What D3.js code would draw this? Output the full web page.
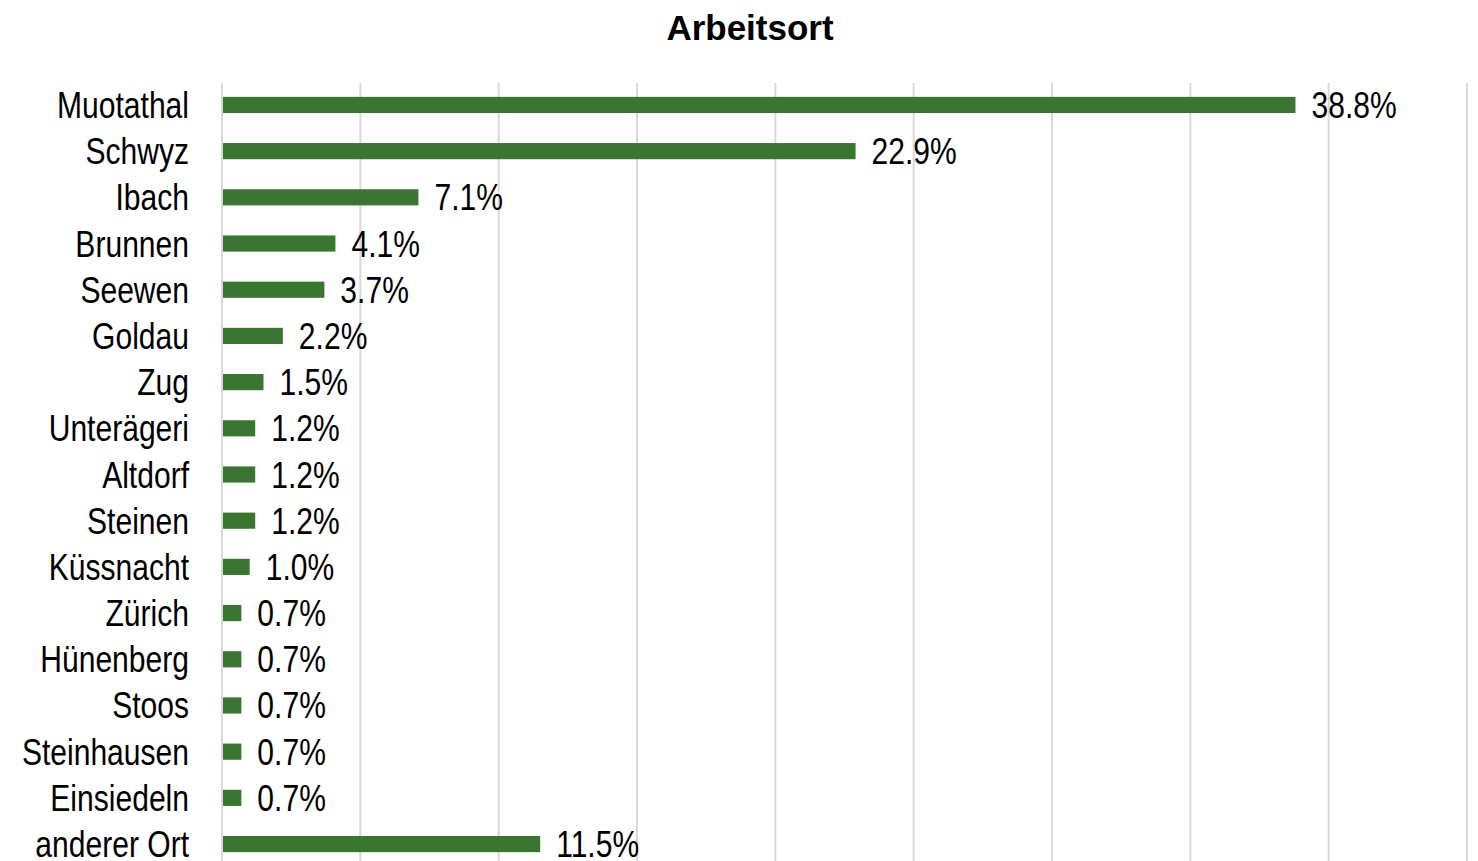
<!DOCTYPE html>
<html>
<head>
<meta charset="utf-8">
<script src="https://cdn.jsdelivr.net/npm/d3@7"></script>
<style>
  body { margin: 0; background: #fff; }
  text { font-family: "Liberation Sans", Arial, sans-serif; }
</style>
</head>
<body>
<div id="chart-area"></div>
<script>
// data
var categories = ["Muotathal", "Schwyz", "Ibach", "Brunnen", "Seewen", "Goldau", "Zug", "Unterägeri",
    "Altdorf", "Steinen", "Küssnacht", "Zürich", "Hünenberg", "Stoos", "Steinhausen", "Einsiedeln", "anderer Ort"];
var values = [38.8, 22.9, 7.1, 4.1, 3.7, 2.2, 1.5, 1.2, 1.2, 1.2, 1.0, 0.7, 0.7, 0.7, 0.7, 0.7, 11.5];
var gridTicks = [0, 5, 10, 15, 20, 25, 30, 35, 40, 45];

var width = 1478, height = 861;
var narrow = 0.835; // no Arial Narrow here, so squeeze the regular face

var svg = d3.select("#chart-area").append("svg")
    .attr("width", width)
    .attr("height", height);

var x = d3.scaleLinear()
    .domain([0, 45])
    .range([222, 1467]);

var y = d3.scaleBand()
    .domain(categories)
    .range([83, 866])
    .paddingInner(0.65)
    .paddingOuter(0.3);

// title
svg.append("text")
    .attr("x", 750)
    .attr("y", 40)
    .attr("text-anchor", "middle")
    .style("font-weight", "bold")
    .style("font-size", "35px")
    .text("Arbeitsort");

// gridlines
svg.selectAll("line.grid")
    .data(gridTicks)
    .enter()
    .append("line")
        .attr("class", "grid")
        .attr("x1", (d)=>{ return x(d) })
        .attr("x2", (d)=>{ return x(d) })
        .attr("y1", 83)
        .attr("y2", height)
        .attr("stroke", "#d9d9d9")
        .attr("stroke-width", 2);

// bars
svg.selectAll("rect")
    .data(values)
    .enter()
    .append("rect")
        .attr("x", x(0) + 1)
        .attr("y", (d, i)=>{ return y(categories[i]) })
        .attr("width", (d)=>{ return x(d) - x(0) - 1 })
        .attr("height", y.bandwidth())
        .attr("fill", "#3b7532");

// value labels
svg.selectAll("text.value")
    .data(values)
    .enter()
    .append("text")
        .attr("class", "value")
        .attr("transform", (d, i)=>{
            return "translate(" + (x(d) + 16) + "," + (y(categories[i]) + y.bandwidth() / 2 + 13) + ") scale(" + narrow + ",1)";
        })
        .style("font-size", "36px")
        .attr("fill", "#000")
        .text((d)=>{ return d.toFixed(1) + "%" });

// category labels
svg.selectAll("text.cat")
    .data(categories)
    .enter()
    .append("text")
        .attr("class", "cat")
        .attr("transform", (d)=>{
            return "translate(189," + (y(d) + y.bandwidth() / 2 + 13) + ") scale(" + narrow + ",1)";
        })
        .attr("text-anchor", "end")
        .style("font-size", "36px")
        .attr("fill", "#000")
        .text((d)=>{ return d });
</script>
</body>
</html>
